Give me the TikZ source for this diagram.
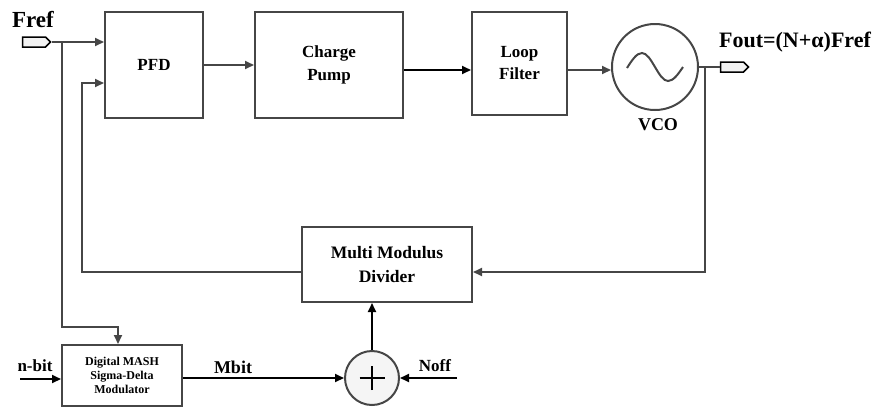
\documentclass[tikz,border=0pt]{standalone}
\usepackage{fontspec}
\setmainfont{Liberation Serif}
\usetikzlibrary{arrows.meta,shapes.symbols}
\definecolor{dgray}{RGB}{70,70,70}
\begin{document}
\begin{tikzpicture}[x=1pt,y=-1pt,
  blk/.style={draw=dgray,line width=2pt,fill=white,align=center,font=\bfseries\fontsize{17}{23}\selectfont,inner sep=0pt},
  arr/.style={draw=dgray,line width=2pt,-{Triangle[length=9pt,width=8pt]}},
  arrb/.style={draw=black,line width=2pt,-{Triangle[length=9pt,width=8pt]}},
  ln/.style={draw=dgray,line width=2pt},
  pin/.style={signal,signal to=east,draw=black,line width=1.5pt,fill=gray!10,minimum width=28pt,minimum height=10pt,inner sep=0pt},
  lbl/.style={font=\bfseries\fontsize{17}{19}\selectfont,inner sep=0pt}]
\useasboundingbox (0,0) rectangle (879,408);
% blocks
\node[blk,minimum width=98pt,minimum height=106pt] (pfd) at (154,65) {PFD};
\node[blk,minimum width=148pt,minimum height=106pt] (cp) at (329,65) {Charge\\Pump};
\node[blk,minimum width=95pt,minimum height=103pt,font=\bfseries\fontsize{17}{22}\selectfont] (lf) at (519.5,63.5) {Loop\\Filter};
\node[circle,draw=dgray,line width=2pt,minimum size=86pt,inner sep=0pt] (vco) at (655,67) {};
\node[blk,minimum width=170pt,minimum height=75pt,font=\bfseries\fontsize{17.5}{24}\selectfont] (div) at (387,264.5) {Multi Modulus\\Divider};
\node[blk,minimum width=120pt,minimum height=61pt,font=\bfseries\fontsize{12}{14}\selectfont] (mash) at (122,375.5) {Digital MASH\\Sigma-Delta\\Modulator};
\node[circle,draw=dgray,line width=2pt,fill=gray!8,minimum size=54pt,inner sep=0pt] (add) at (372,378) {};
% pins
\node[pin] (frefpin) at (34,42) {};
\node[pin] (foutpin) at (732,67) {};
% sine wave in VCO
\draw[dgray,line width=2pt] (627,68) sin (642,53) cos (655,67) sin (668,81) cos (683,67);
% plus sign
\draw[black,line width=2.5pt] ([xshift=-12.5pt]add.center) -- ([xshift=12.5pt]add.center);
\draw[black,line width=2.5pt] ([yshift=-12pt]add.center) -- ([yshift=12pt]add.center);
% labels
\node[lbl,font=\bfseries\fontsize{23}{25}\selectfont] (fref) at (33,20) {Fref};
\node[lbl,font=\bfseries\fontsize{22}{24}\selectfont] (fout) at (795,42) {Fout=(N+α)Fref};
\node[lbl,font=\bfseries\fontsize{18}{20}\selectfont] (vcol) at (658,125) {VCO};
\node[lbl] (nbit) at (35,366) {n-bit};
\node[lbl,font=\bfseries\fontsize{18}{20}\selectfont] (mbit) at (233,367) {Mbit};
\node[lbl] (noff) at (435,366) {Noff};
% coordinates
\coordinate (b1) at (62,42);
\coordinate (b2) at (705,67);
\coordinate (nin) at (20,379);
\coordinate (noffin) at (457,378);
% connectors
\draw[arr] (frefpin.east) -- (frefpin.east -| pfd.west);
\draw[arr] (b1) |- ([xshift=-4pt]mash.north |- 0,327) -- ([xshift=-4pt]mash.north);
\draw[arr] (pfd.east) -- (cp.west);
\draw[arrb] (cp.east |- 0,70) -- (lf.west |- 0,70);
\draw[arr] (lf.east |- 0,70) -- (vco.west |- 0,70);
\draw[ln] (vco.east) -- (foutpin.west);
\draw[arr] (b2) |- (div.east |- 0,272);
\draw[arr] (div.west |- 0,272) -| (82,83) -- (pfd.west |- 0,83);
\draw[arrb] (nin) -- (mash.west |- nin);
\draw[arrb] (mash.east |- add.west) -- (add.west);
\draw[arrb] (noffin) -- (add.east);
\draw[arrb] (add.north) -- (add.north |- div.south);
\end{tikzpicture}
\end{document}
